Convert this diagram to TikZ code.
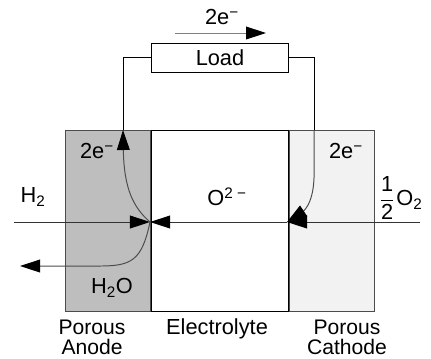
\documentclass[tikz,border=0pt]{standalone}
\usepackage{fontspec}
\setmainfont{Liberation Sans}
\usepackage{xcolor}
\usetikzlibrary{positioning, arrows.meta, calc}

\definecolor{anodegray}{HTML}{BEBEBE}
\definecolor{cathodegray}{HTML}{F2F2F2}

\tikzset{
  layer/.style={draw=black!70, line width=0.7pt, inner sep=0pt, anchor=north west},
  loadbox/.style={draw, line width=0.7pt, minimum width=3.4cm, minimum height=0.725cm, inner sep=0pt},
  wire/.style={draw=black, line width=0.7pt},
  flow/.style={draw=black!80, line width=0.7pt},
  tip/.style={-{Triangle[length=0.5cm,width=0.32cm,black]}},
  lbl/.style={inner sep=0pt}
}

\begin{document}
\begin{tikzpicture}[x=0.025cm, y=-0.025cm, font=\fontsize{15.5}{12.5}\selectfont]
  \useasboundingbox (0,0) rectangle (431,358);

  % Cell layers
  \node[layer, fill=anodegray, minimum width=2.125cm, minimum height=4.525cm] (anode) at (65,130) {};
  \node[layer, draw=black, fill=white, minimum width=3.425cm, minimum height=4.525cm] (elyte) at (anode.north east) {};
  \node[layer, fill=cathodegray, minimum width=2.125cm, minimum height=4.525cm] (cathode) at (elyte.north east) {};

  % Load and external circuit
  \node[loadbox] (load) at (220,57.5) {Load};
  \coordinate (lw) at (123,130);
  \coordinate (rw) at (314,130);
  \draw[wire] (lw) |- (load.west);
  \draw[wire] (rw) |- (load.east);

  \coordinate (ea) at (175,33);
  \coordinate (eb) at (266,33);
  \draw[draw=black!50, line width=0.7pt, tip] (ea) -- (eb);
  \node[lbl] (etop) at (222,17) {2e\textsuperscript{−}};

  % Reaction points
  \coordinate (ja) at (150,222);
  \coordinate (jc) at (287,222);
  \coordinate (hin) at (14,222);
  \coordinate (oin) at (420,222);
  \coordinate (hout) at (20,266);

  \draw[flow, tip] (hin) -- (ja);
  \draw[flow, tip] (jc) -- (ja);
  \draw[flow, tip] (oin) -- (jc);

  % Electron and water paths
  \draw[flow, black!70, tip] (ja) .. controls (134,208) and (124,190) .. (lw);
  \draw[flow, black!70, tip] (ja) .. controls (142,260) and (132,266) .. (100,266) -- (hout);
  \draw[flow, black!70, tip] (rw) -- (314,178) .. controls (313,206) and (302,212) .. (jc);

  % Labels
  \node[lbl] (ea2) at (97,151) {2e\textsuperscript{−}};
  \node[lbl] (h2) at (33,197) {H\textsubscript{2}};
  \node[lbl] (ion) at (227,197) {O\textsuperscript{2 −}};
  \node[lbl] (ec2) at (346,151) {2e\textsuperscript{−}};
  \node[lbl] (o2) at (401,198) {$\displaystyle\frac{\mbox{1}}{\mbox{2}}$\kern1pt O\textsubscript{2}};
  \node[lbl] (h2o) at (112,288) {H\textsubscript{2}O};

  \node[lbl, align=center, font=\fontsize{15}{14}\selectfont] (tanode) at (92,337.5) {Porous\\Anode};
  \node[lbl] (telyte) at (217,329) {Electrolyte};
  \node[lbl, align=center, font=\fontsize{15}{14}\selectfont] (tcathode) at (347,337.5) {Porous\\Cathode};
\end{tikzpicture}
\end{document}
